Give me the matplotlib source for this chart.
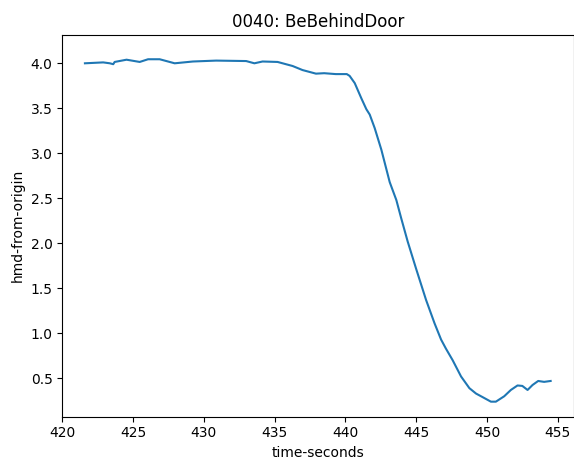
import matplotlib
matplotlib.use("Agg")
import matplotlib.pyplot as plt

# head distance from origin over time
time_s = [421.6, 422.89, 423.36, 423.6, 423.7, 424.54, 425.47, 426.06, 426.88, 427.94,
          429.23, 430.87, 432.99, 433.57, 434.15, 435.21, 436.27, 436.97, 437.92, 438.5,
          439.32, 440.1, 440.3, 440.66, 441.13, 441.48, 441.72, 442.07, 442.54, 443.13,
          443.6, 443.94, 444.4, 444.99, 445.7, 446.3, 446.76, 447.1, 447.58, 448.17,
          448.76, 449.23, 449.7, 450.28, 450.63, 451.22, 451.69, 452.16, 452.5, 452.87,
          453.22, 453.62, 454.04, 454.5]
hmd_dist = [4.00, 4.01, 4.00, 3.99, 4.015, 4.04, 4.015, 4.045, 4.045, 4.00,
            4.02, 4.03, 4.025, 4.00, 4.02, 4.015, 3.97, 3.925, 3.885, 3.89,
            3.88, 3.88, 3.86, 3.78, 3.61, 3.49, 3.43, 3.28, 3.04, 2.68,
            2.48, 2.28, 2.02, 1.72, 1.37, 1.11, 0.93, 0.83, 0.70, 0.52,
            0.39, 0.33, 0.29, 0.24, 0.24, 0.30, 0.37, 0.42, 0.415, 0.37,
            0.425, 0.47, 0.46, 0.47]

fig, ax = plt.subplots(figsize=(5.74, 4.66), dpi=100)
fig.subplots_adjust(left=0.1085, right=1.0, bottom=0.106, top=0.925)
ax.plot(time_s, hmd_dist)
ax.set_xlim(420.0, 456.15)
ax.set_ylim(0.074, 4.315)
ax.set_title("0040: BeBehindDoor")
ax.set_xlabel("time-seconds")
ax.set_ylabel("hmd-from-origin")
fig.savefig("out.png", dpi=100)
